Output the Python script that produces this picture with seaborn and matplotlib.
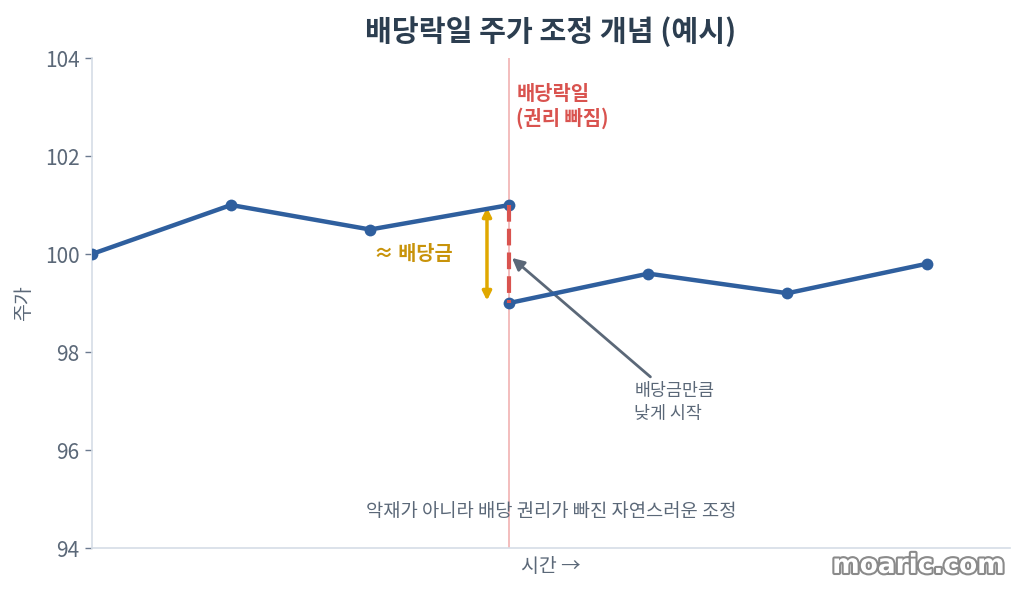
import matplotlib
matplotlib.use("Agg")
import matplotlib.pyplot as plt
import matplotlib.patheffects as pe
import seaborn as sns
import pandas as pd

# data
pre_x = [0, 1, 2, 3]
pre_price = [100.0, 101.0, 100.5, 101.0]
post_x = [3, 4, 5, 6]
post_price = [99.0, 99.6, 99.2, 99.8]
ex_date_x = 3
y_ticks = [94, 96, 98, 100, 102, 104]

title = "배당락일 주가 조정 개념 (예시)"
xlabel = "시간 →"
ylabel = "주가"

sns.set_theme(style="white")
plt.rcParams['font.family'] = ['Noto Sans CJK KR', 'DejaVu Sans']

fig = plt.figure(figsize=(10.24, 5.92), dpi=100)
ax = fig.add_axes([0.0898, 0.0743, 0.8965, 0.8277])

blue = "#2f5f9e"
pre_df = pd.DataFrame({"t": pre_x, "p": pre_price})
post_df = pd.DataFrame({"t": post_x, "p": post_price})
sns.lineplot(data=pre_df, x="t", y="p", ax=ax, color=blue, lw=3.2,
             marker="o", markersize=8.5, markeredgewidth=0, zorder=4)
sns.lineplot(data=post_df, x="t", y="p", ax=ax, color=blue, lw=3.2,
             marker="o", markersize=8.5, markeredgewidth=0, zorder=4)

# ex-dividend vertical line
ax.axvline(ex_date_x, color="#f2b8b8", lw=1.3, zorder=1)
ax.plot([ex_date_x, ex_date_x], [pre_price[-1], post_price[0]], color="#d9534f",
        lw=3, ls=(0, (4, 1.7)), zorder=5)

ax.text(ex_date_x + 0.05, 103.5, "배당락일\n(권리 빠짐)", color="#d9534f",
        fontsize=14.3, fontweight="bold", va="top", ha="left", linespacing=1.25)

# dividend gap arrow
ax.annotate("", xy=(2.84, 99.05), xytext=(2.84, 100.95),
            arrowprops=dict(arrowstyle="<|-|>", color="#e0a800", lw=2.5,
                            mutation_scale=13, shrinkA=0, shrinkB=0), zorder=3)
ax.text(2.59, 100.0, "≈ 배당금", color="#c8930a", fontsize=14.2, fontweight="bold",
        ha="right", va="center")

ax.annotate("배당금만큼\n낮게 시작", xy=(3.02, 99.92), xytext=(3.9, 96.97),
            color="#5b6878", fontsize=12.5, ha="left", va="center", linespacing=1.38,
            arrowprops=dict(arrowstyle="-|>", color="#5b6878", lw=2,
                            mutation_scale=18, shrinkA=0, shrinkB=0,
                            relpos=(0.2, 1.12)))

ax.text(3.3, 94.75, "악재가 아니라 배당 권리가 빠진 자연스러운 조정",
        color="#5b6878", fontsize=13.5, ha="center", va="center")

ax.set_xlim(0, 6.6)
ax.set_ylim(94, 104)
ax.set_yticks(y_ticks)
ax.set_xticks([])
ax.tick_params(axis="y", colors="#6b7a8f", labelsize=15, length=5, width=1,
               left=True, pad=4)
for lbl in ax.get_yticklabels():
    lbl.set_color("#5b6878")
ax.set_xlabel(xlabel, color="#5b6878", fontsize=14, labelpad=6)
ax.set_ylabel(ylabel, color="#5b6878", fontsize=14, labelpad=8)
ax.set_title(title, fontsize=21, fontweight="bold", color="#2c3e50", pad=12)

sns.despine(ax=ax)
for s in ["left", "bottom"]:
    ax.spines[s].set_color("#d5dde6")
    ax.spines[s].set_linewidth(1.2)

fig.text(0.897, 0.044, "moaric.com", fontsize=19, fontweight="bold",
         family="DejaVu Sans", color="white", ha="center", va="center",
         path_effects=[pe.withStroke(linewidth=3, foreground="#8a8a8a")])

fig.savefig("out.png", dpi=100)
